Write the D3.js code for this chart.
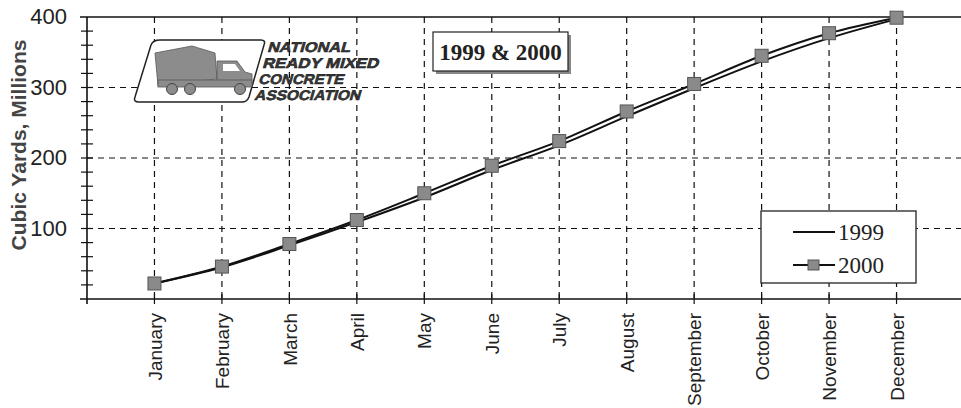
<!DOCTYPE html>
<html>
<head>
<meta charset="utf-8">
<script src="https://cdn.jsdelivr.net/npm/d3@7"></script>
<style>
  html, body { margin: 0; padding: 0; background: #fff; }
  svg { display: block; }
</style>
</head>
<body>
<div id="chart"></div>
<script>
// --------------- Data ---------------
const months = ["January", "February", "March", "April", "May", "June",
  "July", "August", "September", "October", "November", "December"];
const yards1999 = [22, 45, 76, 109, 144, 183, 218, 259, 299, 337, 370, 397];
const yards2000 = [22, 46, 78, 112, 150, 189, 224, 266, 305, 345, 377, 399];
const yTicks = [100, 200, 300, 400];
const seriesNames = ["1999", "2000"];
const logoLines = ["NATIONAL", "READY MIXED", "CONCRETE", "ASSOCIATION"];
const titleText = "1999 & 2000";
const yLabel = "Cubic Yards, Millions";

// --------------- Constants ---------------
const WIDTH = 961, HEIGHT = 408;
const PLOT = { left: 87, right: 964, top: 17, bottom: 299 };

const svg = d3.select("#chart").append("svg")
  .attr("width", WIDTH).attr("height", HEIGHT);

const x = d3.scalePoint().domain(months).range([PLOT.left, PLOT.right]).padding(1);
const y = d3.scaleLinear().domain([0, 400]).range([PLOT.bottom, PLOT.top]);

// --------------- Grid ---------------
const grid = svg.append("g").attr("stroke", "#111").attr("stroke-width", 1.2)
  .attr("stroke-dasharray", "6,5");
grid.selectAll(".vg").data(months).join("line")
  .attr("x1", d => x(d)).attr("x2", d => x(d))
  .attr("y1", PLOT.top).attr("y2", PLOT.bottom);
grid.selectAll(".hg").data(yTicks.slice(0, 3)).join("line")
  .attr("x1", PLOT.left).attr("x2", WIDTH)
  .attr("y1", d => y(d)).attr("y2", d => y(d));

// --------------- Logo ---------------
const logo = svg.append("g");
logo.append("path")
  .attr("d", "M160,40 L261,40 Q266,40 264,45 L249,97 Q247,102 242,102 L139,102 Q133,102 135,97 L151,45 Q153,40 160,40 Z")
  .attr("fill", "#fff").attr("stroke", "#222").attr("stroke-width", 1.5);
// mixer truck silhouette
const truckFill = "#8c8c8c";
logo.append("path")
  .attr("d", "M155,53 L192,46 L215,53 L217,79 L158,86 Z")
  .attr("fill", truckFill).attr("stroke", "#555").attr("stroke-width", 0.8);
logo.append("path")
  .attr("d", "M217,61 L237,61 L245,72 L252,74 L252,86 L217,86 Z")
  .attr("fill", truckFill).attr("stroke", "#555").attr("stroke-width", 0.8);
logo.append("path").attr("d", "M223,64 L235,64 L240,71 L223,71 Z").attr("fill", "#fff");
logo.append("rect").attr("x", 158).attr("y", 80).attr("width", 94).attr("height", 7)
  .attr("fill", truckFill).attr("stroke", "#555").attr("stroke-width", 0.8);
logo.selectAll("circle").data([172, 190, 240]).join("circle")
  .attr("cx", d => d).attr("cy", 89).attr("r", 5.5)
  .attr("fill", truckFill).attr("stroke", "#444").attr("stroke-width", 1);
logo.selectAll("text").data(logoLines).join("text")
  .attr("transform", (d, i) => `translate(${[267, 262, 258, 254][i]},${[52, 68, 84, 100][i]}) skewX(-16)`)
  .attr("textLength", (d, i) => [83, 116, 85, 106][i])
  .attr("lengthAdjust", "spacingAndGlyphs")
  .attr("font-family", "Liberation Sans, Arial, sans-serif")
  .attr("font-size", 14).attr("font-weight", "bold")
  .attr("fill", "#3a3a3a").attr("stroke", "#111").attr("stroke-width", 0.5)
  .text(d => d);

// --------------- Title box ---------------
svg.append("rect").attr("x", 436).attr("y", 35).attr("width", 135).attr("height", 39)
  .attr("fill", "#888");
svg.append("rect").attr("x", 433).attr("y", 32).attr("width", 135).attr("height", 39)
  .attr("fill", "#fff").attr("stroke", "#222").attr("stroke-width", 1.2);
svg.append("text").attr("x", 500.5).attr("y", 60).attr("text-anchor", "middle")
  .attr("font-family", "Liberation Serif, Times New Roman, serif")
  .attr("font-size", 23).attr("font-weight", "bold").attr("fill", "#222")
  .text(titleText);

// --------------- Axes ---------------
const axes = svg.append("g").attr("stroke", "#111").attr("stroke-width", 1.6);
axes.append("line").attr("x1", PLOT.left - 7).attr("x2", WIDTH)
  .attr("y1", PLOT.top).attr("y2", PLOT.top);
axes.append("line").attr("x1", PLOT.left - 7).attr("x2", WIDTH)
  .attr("y1", PLOT.bottom).attr("y2", PLOT.bottom);
axes.append("line").attr("x1", PLOT.left).attr("x2", PLOT.left)
  .attr("y1", PLOT.top).attr("y2", PLOT.bottom + 5);
// minor y ticks every 20
axes.selectAll(".ym").data(d3.range(20, 400, 20)).join("line")
  .attr("x1", PLOT.left - 6).attr("x2", PLOT.left + 6)
  .attr("y1", d => y(d)).attr("y2", d => y(d)).attr("stroke-width", 1.2);
// month ticks on x axis
axes.selectAll(".xm").data(months).join("line")
  .attr("x1", d => x(d)).attr("x2", d => x(d))
  .attr("y1", PLOT.bottom - 5).attr("y2", PLOT.bottom + 5).attr("stroke-width", 1.2);

const yAxis = svg.append("g").attr("transform", `translate(${PLOT.left - 20},0)`)
  .call(d3.axisLeft(y).tickValues(yTicks).tickSize(0).tickPadding(0));
yAxis.select(".domain").remove();
yAxis.selectAll("text")
  .attr("font-family", "Liberation Sans, Arial, sans-serif")
  .attr("font-size", 22).attr("fill", "#222").attr("dy", "0.3em");

const xAxis = svg.append("g").attr("transform", `translate(0,${PLOT.bottom + 14})`)
  .call(d3.axisBottom(x).tickSize(0).tickPadding(0));
xAxis.select(".domain").remove();
xAxis.selectAll("text")
  .attr("font-family", "Liberation Sans, Arial, sans-serif")
  .attr("font-size", 19).attr("fill", "#222")
  .attr("transform", "rotate(-90)")
  .attr("text-anchor", "end")
  .attr("x", 0).attr("y", 0).attr("dy", "0.35em");

svg.append("text")
  .attr("transform", "translate(26,145) rotate(-90)")
  .attr("text-anchor", "middle")
  .attr("font-family", "Liberation Sans, Arial, sans-serif")
  .attr("font-size", 21).attr("font-weight", "bold").attr("fill", "#444")
  .text(yLabel);

// --------------- Lines ---------------
const line = d3.line().x((d, i) => x(months[i])).y(d => y(d)).curve(d3.curveMonotoneX);
svg.append("path").datum(yards1999).attr("d", line)
  .attr("fill", "none").attr("stroke", "#111").attr("stroke-width", 2);
svg.append("path").datum(yards2000).attr("d", line)
  .attr("fill", "none").attr("stroke", "#111").attr("stroke-width", 2);
svg.selectAll(".mk").data(yards2000).join("rect")
  .attr("x", (d, i) => x(months[i]) - 6.5).attr("y", d => y(d) - 6.5)
  .attr("width", 13).attr("height", 13)
  .attr("fill", "#8a8a8a").attr("stroke", "#555").attr("stroke-width", 1);

// --------------- Legend ---------------
const legend = svg.append("g").attr("transform", "translate(761,211)");
legend.append("rect").attr("width", 155).attr("height", 72)
  .attr("fill", "#fff").attr("stroke", "#222").attr("stroke-width", 1.3);
seriesNames.forEach((name, i) => {
  const ly = 21 + i * 33;
  legend.append("line").attr("x1", 32).attr("x2", 74).attr("y1", ly).attr("y2", ly)
    .attr("stroke", "#111").attr("stroke-width", 2);
  if (i === 1) {
    legend.append("rect").attr("x", 47).attr("y", ly - 5).attr("width", 11).attr("height", 10)
      .attr("fill", "#8a8a8a").attr("stroke", "#555");
  }
  legend.append("text").attr("x", 77).attr("y", ly + 8)
    .attr("font-family", "Liberation Serif, Times New Roman, serif")
    .attr("font-size", 23).attr("fill", "#222").text(name);
});
</script>
</body>
</html>
